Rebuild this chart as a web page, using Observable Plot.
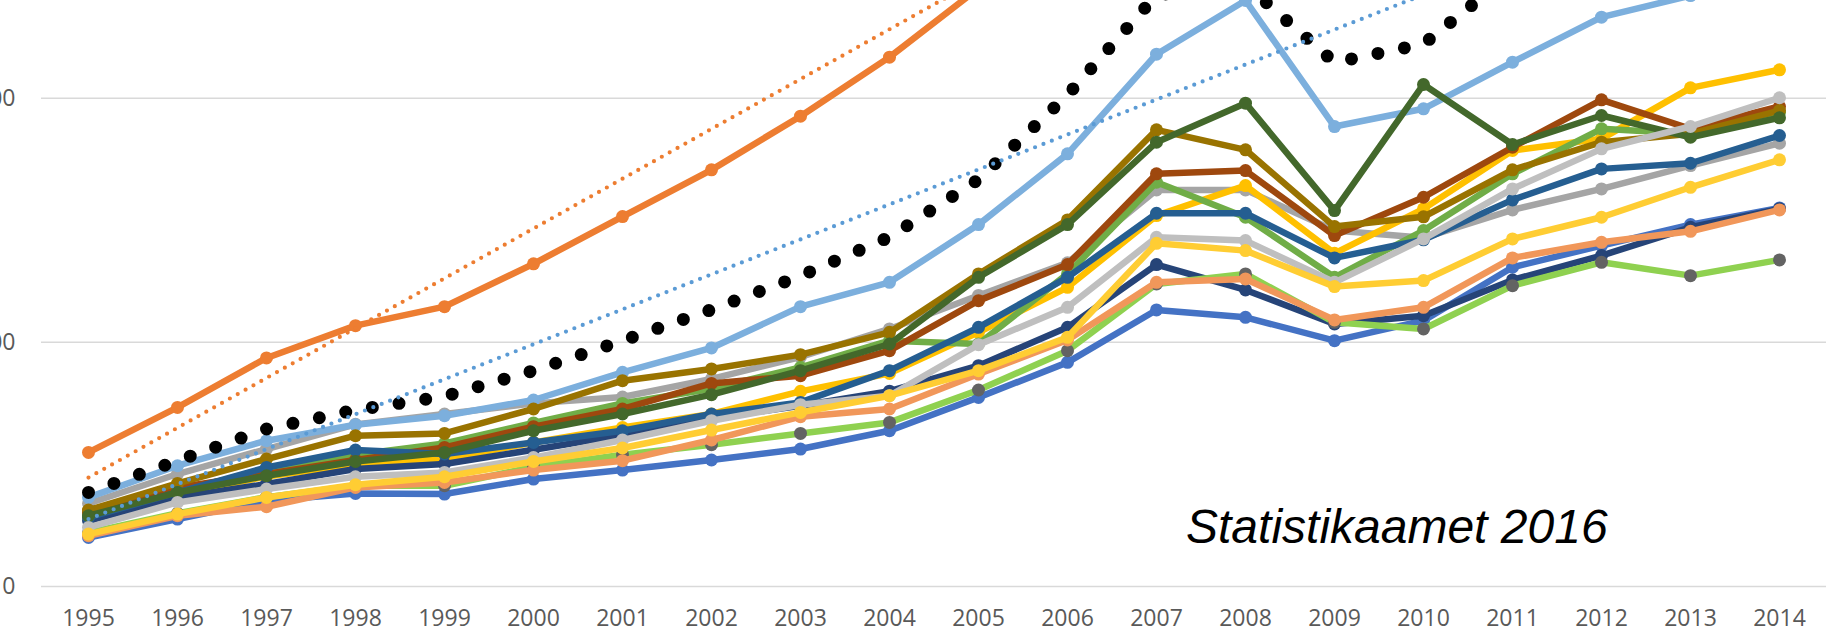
<!DOCTYPE html>
<html>
<head>
<meta charset="utf-8">
<script src="https://cdn.jsdelivr.net/npm/d3@7"></script>
<script src="https://cdn.jsdelivr.net/npm/@observablehq/plot@0.6"></script>
<style>
  html, body { margin: 0; padding: 0; background: #fff; overflow: hidden; }
  #chart { position: relative; width: 1826px; height: 641px; overflow: hidden; }
</style>
</head>
<body>
<div id="chart"></div>
<script>
// ---- data ----
const years = [1995,1996,1997,1998,1999,2000,2001,2002,2003,2004,2005,2006,2007,2008,2009,2010,2011,2012,2013,2014];
const yTicks = [0, 5000, 10000];
const caption = "Statistikaamet 2016";

const estonia   = [1926,2575,3225,3614,3893,4419,5034,5670,6360,7155,8334,10064,12113,12327,10731,11110,12570,13500,14300,15000];
const harju     = [2746,3668,4680,5342,5731,6608,7575,8532,9631,10840,12250,14500,17000,17300,15000,15500,17000,18300,19200,20000];
const harjuTrend= [2230,3250,4270,5290,6310,7330,8350,9370,10390,11410,12430,13450,14470,15490,16510,17530,18550,19570,20590,21610];
const tartu     = [1824,2473,2985,3313,3497,3819,4385,4885,5731,6229,7411,8860,10900,12000,9419,9782,10737,11659,12100,12700];
const tartuTrend= [1380,2096,2812,3528,4244,4960,5676,6392,7108,7824,8540,9256,9972,10688,11404,12120,12836,13552,14268,14984];
const seriesDarkGreen = [1449,1926,2268,2561,2746,3190,3532,3928,4420,4966,6332,7411,9098,9897,7698,10280,9050,9645,9200,9598];
const seriesDarkGold  = [1565,2111,2610,3088,3135,3635,4215,4455,4748,5204,6401,7507,9352,8942,7370,7570,8532,9098,9270,9747];
const seriesBrown     = [1516,2029,2303,2590,2848,3272,3635,4159,4317,4829,5854,6592,8450,8518,7186,7971,8995,9966,9372,9829];
const seriesGreen     = [1480,1990,2350,2700,2930,3350,3750,4050,4488,5034,4967,6401,8278,7561,6332,7288,8450,9372,9270,9712];
const seriesGray      = [1700,2303,2815,3320,3533,3750,3880,4250,4700,5274,5960,6630,8122,8122,7290,7140,7712,8142,8620,9077];
const seriesGold      = [1400,1900,2250,2500,2610,2950,3258,3532,3996,4364,5205,6127,7595,8210,6823,7733,8928,9167,10212,10581];
const seriesSteel     = [1414,1926,2438,2795,2713,2950,3190,3532,3770,4420,5307,6331,7643,7643,6729,7100,7917,8552,8667,9235];
const seriesLightGray = [1209,1721,1996,2248,2336,2640,3000,3395,3723,3907,4952,5717,7151,7083,6229,7117,8142,8962,9420,10008];
const seriesLightGold = [1073,1483,1824,2084,2248,2561,2836,3204,3565,3907,4420,5102,7028,6878,6141,6264,7118,7561,8175,8737];
const seriesNavy      = [1346,1824,2098,2405,2508,2800,3100,3450,3700,4000,4522,5307,6592,6073,5376,5546,6278,6776,7356,7733];
const seriesSalmon    = [1039,1449,1633,2029,2131,2385,2576,3000,3477,3635,4350,5048,6229,6298,5459,5717,6729,7048,7274,7712];
const seriesBlue      = [1004,1381,1756,1906,1893,2200,2385,2590,2815,3190,3872,4590,5663,5512,5034,5444,6537,6981,7411,7753];
const seriesLightGreen= [1100,1500,1830,2063,2063,2450,2700,2903,3135,3360,4024,4829,6196,6401,5410,5274,6161,6639,6366,6688];

// ---- styles ----
const solidSeries = [
  {values: seriesBlue,       line: "#4472C4", dot: "#4472C4"},
  {values: harju,            line: "#ED7D31", dot: "#ED7D31"},
  {values: seriesGray,       line: "#A5A5A5", dot: "#A5A5A5"},
  {values: seriesGold,       line: "#FFC000", dot: "#FFC000"},
  {values: tartu,            line: "#7CAFDD", dot: "#7CAFDD"},
  {values: seriesGreen,      line: "#70AD47", dot: "#70AD47"},
  {values: seriesNavy,       line: "#264478", dot: "#264478"},
  {values: seriesBrown,      line: "#9E480E", dot: "#9E480E"},
  {values: seriesLightGreen, line: "#8FD150", dot: "#636363"},
  {values: seriesDarkGold,   line: "#997300", dot: "#997300"},
  {values: seriesSteel,      line: "#255E91", dot: "#255E91"},
  {values: seriesDarkGreen,  line: "#43682B", dot: "#43682B"},
  {values: seriesSalmon,     line: "#F1975A", dot: "#F1975A"},
  {values: seriesLightGray,  line: "#BFBFBF", dot: "#BFBFBF"},
  {values: seriesLightGold,  line: "#FFCD33", dot: "#FFCD33"}
];

const rows = arr => years.map((year, i) => ({year, value: arr[i]}));

const marks = [
  Plot.gridY(yTicks, {stroke: "#d9d9d9", strokeOpacity: 1, strokeWidth: 1.5}),
  Plot.axisY(yTicks, {tickSize: 0, tickPadding: 26, fontSize: 23, fill: "#595959", label: null, tickFormat: d => String(d)}),
  Plot.axisX({tickSize: 0, tickPadding: 23, fontSize: 23, fill: "#595959", label: null, tickFormat: d => String(d)})
];

solidSeries.forEach((s, idx) => {
  const data = rows(s.values);
  marks.push(Plot.line(data, {x: "year", y: "value", stroke: s.line, strokeWidth: 6.5, strokeLinejoin: "round", clip: true}));
  marks.push(Plot.dot(data, {x: "year", y: "value", fill: s.dot, r: 6.5, clip: true}));
  if (idx === 11) {
    // Estonia, drawn with large round dots
    marks.push(Plot.line(rows(estonia), {x: "year", y: "value", stroke: "#000", strokeWidth: 13,
      strokeDasharray: "0 27", strokeLinecap: "round", clip: true}));
  }
});

marks.push(Plot.line(rows(harjuTrend), {x: "year", y: "value", stroke: "#ED7D31", strokeWidth: 4.2,
  strokeDasharray: "0 9", strokeLinecap: "round", clip: true}));
marks.push(Plot.line(rows(tartuTrend), {x: "year", y: "value", stroke: "#5B9BD5", strokeWidth: 4.2,
  strokeDasharray: "0 9", strokeLinecap: "round", clip: true}));

const chart = Plot.plot({
  width: 1826,
  height: 641,
  marginLeft: 41,
  marginRight: 0,
  marginTop: 0,
  marginBottom: 55,
  style: {fontFamily: "'Open Sans', sans-serif", fontSize: "23px", background: "#fff", overflow: "hidden"},
  x: {type: "point", domain: years, padding: 0.5},
  y: {domain: [0, 12000]},
  marks
});

d3.select(chart).append("text")
  .attr("x", 1186).attr("y", 543)
  .attr("text-anchor", "start")
  .attr("font-family", "'Liberation Sans', Arial, sans-serif")
  .attr("font-style", "italic")
  .attr("font-size", 48)
  .attr("fill", "#000")
  .text(caption);

document.getElementById("chart").appendChild(chart);
</script>
</body>
</html>
